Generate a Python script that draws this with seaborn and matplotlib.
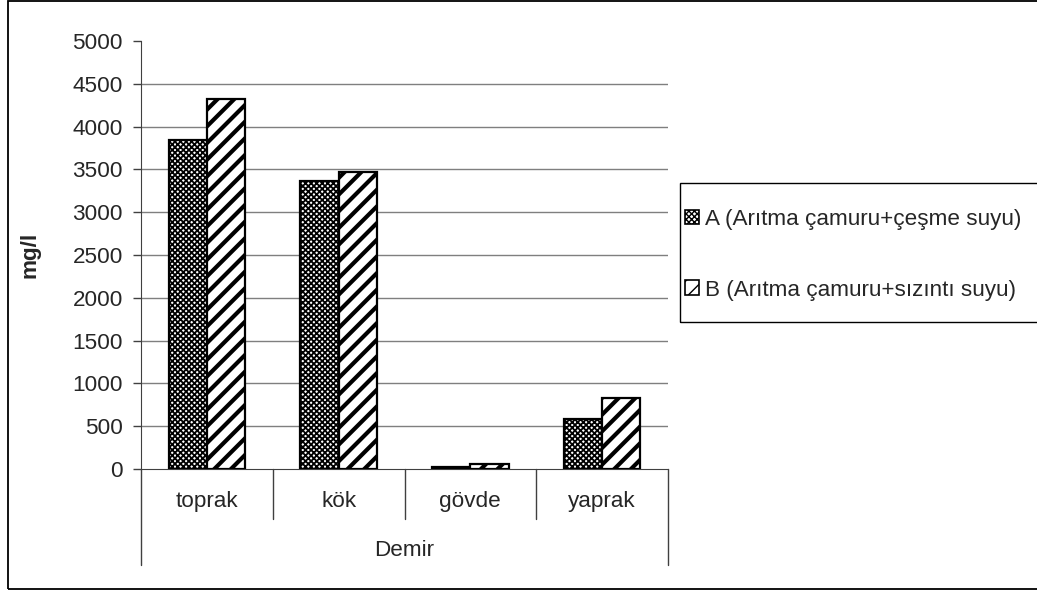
import numpy as np
import pandas as pd
import seaborn as sns
import matplotlib.pyplot as plt
from matplotlib.patches import Patch, Rectangle
import matplotlib.transforms as mtransforms

# Fe (Demir) concentrations, mg/l
parts = ['toprak', 'kök', 'gövde', 'yaprak']
vals_a = [3840, 3365, 25, 580]
vals_b = [4325, 3465, 55, 835]
group_a = 'A (Arıtma çamuru+çeşme suyu)'
group_b = 'B (Arıtma çamuru+sızıntı suyu)'
yticks = [0, 500, 1000, 1500, 2000, 2500, 3000, 3500, 4000, 4500, 5000]

df = pd.DataFrame({
    'part': parts * 2,
    'value': vals_a + vals_b,
    'group': [group_a] * len(parts) + [group_b] * len(parts),
})

sns.set_style('white')
plt.rcParams['font.family'] = ['Liberation Sans', 'DejaVu Sans']
FS = 16.2

fig = plt.figure(figsize=(10.37, 5.90), dpi=100)
W, H = 1037, 590
ax = fig.add_axes([141 / W, 1 - 469 / H, (668 - 141) / W, (469 - 41) / H])

sns.barplot(data=df, x='part', y='value', hue='group', order=parts,
            hue_order=[group_a, group_b], palette=['white', 'white'],
            edgecolor='black', linewidth=1.6, width=0.58, gap=0,
            legend=False, ax=ax, zorder=3)

hatches = ['xxxxxx', '//']
hatch_lw = [1.3, 3.0]
for cont, h, hlw in zip(ax.containers, hatches, hatch_lw):
    for bar in cont:
        bar.set_hatch(h)
        if hasattr(bar, 'set_hatch_linewidth'):
            bar.set_hatch_linewidth(hlw)

ax.set_ylim(0, 5000)
ax.set_xlim(-0.5, 3.5)
ax.set_yticks(yticks)
ax.set_yticklabels([str(v) for v in yticks], fontsize=FS)
for v in yticks[1:-1]:
    ax.axhline(v, color='#7f7f7f', lw=1.0, zorder=1)

for s in ['top', 'right']:
    ax.spines[s].set_visible(False)
ax.spines['left'].set_color('#404040')
ax.spines['bottom'].set_color('#404040')
ax.spines['left'].set_bounds(0, 5000)
ax.tick_params(axis='y', direction='out', length=6, width=1, color='#404040',
               pad=7, left=True)
ax.tick_params(axis='x', length=0, pad=16, labelsize=FS)
ax.set_xlabel('')
ax.set_ylabel('mg/l', fontsize=FS, fontweight='bold')
ax.yaxis.set_label_coords(-0.19, 0.5)

# two-level category axis: separators and outer bracket
trans = mtransforms.blended_transform_factory(ax.transData, ax.transAxes)
low1 = -50 / 428
low2 = -96 / 428
ax.plot([-0.5, -0.5], [0, low2], transform=trans, color='#404040', lw=1, clip_on=False)
for xb in [0.5, 1.5, 2.5]:
    ax.plot([xb, xb], [0, low1], transform=trans, color='#404040', lw=1, clip_on=False)
ax.plot([3.5, 3.5], [0, low2], transform=trans, color='#404040', lw=1, clip_on=False)
ax.text(1.5, -81 / 428, 'Demir', transform=trans, ha='center', va='center', fontsize=FS)

# legend: frame drawn separately, it runs past the right edge in the original
handles = [Patch(facecolor='white', edgecolor='black', hatch='xxxxxx', lw=1.2),
           Patch(facecolor='white', edgecolor='black', hatch='//', lw=1.2)]
leg = fig.legend(handles, [group_a, group_b], loc='upper left',
                 bbox_to_anchor=(685 / W, 1 - 209 / H), fontsize=FS,
                 frameon=False, handlelength=0.6, handleheight=0.6,
                 handletextpad=0.3, labelspacing=2.2, borderpad=0,
                 borderaxespad=0)
fig.patches.append(Rectangle((680 / W, 1 - 322 / H), 0.5, (322 - 183) / H,
                             transform=fig.transFigure, fill=False,
                             edgecolor='black', lw=1.0))

fig.patches.append(Rectangle((8 / W, 1 / H), 1.1, 1 - 2 / H, transform=fig.transFigure,
                             fill=False, edgecolor='black', lw=1.3))

plt.savefig('out.png', dpi=100)
plt.close()
